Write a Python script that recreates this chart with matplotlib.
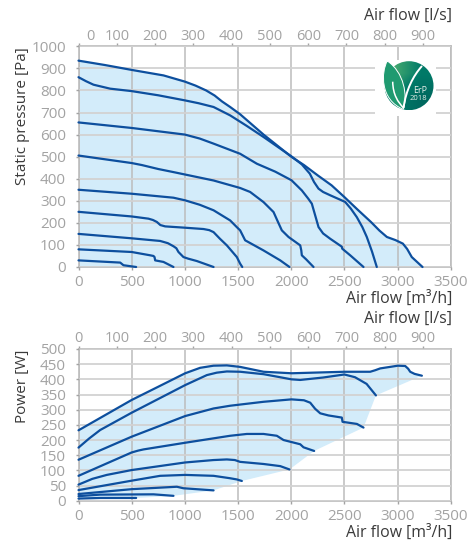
import matplotlib
matplotlib.use('Agg')
import matplotlib.pyplot as plt
import numpy as np
from matplotlib.patches import Circle, PathPatch, Rectangle
from matplotlib.path import Path

plt.rcParams['font.family'] = ['Open Sans', 'DejaVu Sans']

W = 470
H = 541
GREY = '#a3a3a3'
DARK = '#3a3a3a'
LINE = '#0d4f9e'
FILL = '#d3ecfa'

# static pressure curves, x in m3/h, y in Pa
p1_x = [0, 250, 500, 800, 1000, 1100, 1200, 1280, 1350, 1426, 1520, 1740, 2000, 2120, 2250, 2380, 2500, 2620, 2750, 2830, 2900, 2980, 3050, 3090, 3134, 3235]
p1_y = [935, 915, 893, 868, 840, 822, 800, 777, 750, 725, 692, 600, 500, 462, 415, 370, 317, 262, 204, 165, 136, 122, 106, 82, 45, 0]
p2_x = [0, 70, 141, 298, 500, 750, 1000, 1130, 1270, 1426, 1580, 1740, 2003, 2100, 2175, 2215, 2257, 2300, 2367, 2507, 2560, 2617, 2670, 2711, 2760, 2805]
p2_y = [860, 842, 826, 808, 797, 778, 755, 742, 725, 687, 640, 589, 501, 465, 423, 385, 355, 340, 325, 295, 265, 226, 180, 136, 70, 0]
p3_x = [0, 500, 1000, 1140, 1270, 1520, 1677, 1850, 2003, 2100, 2160, 2194, 2225, 2257, 2300, 2367, 2476, 2480, 2555, 2680]
p3_y = [655, 630, 600, 582, 559, 513, 468, 432, 393, 347, 310, 287, 235, 181, 152, 128, 92, 83, 53, 0]
p4_x = [0, 500, 595, 750, 893, 1270, 1520, 1614, 1740, 1834, 1875, 1912, 1975, 2085, 2095, 2100, 2140, 2210]
p4_y = [505, 471, 462, 444, 430, 392, 358, 340, 294, 249, 205, 166, 136, 98, 75, 53, 35, 0]
p5_x = [0, 500, 893, 1003, 1140, 1270, 1426, 1490, 1520, 1567, 1740, 1897, 1984]
p5_y = [350, 332, 314, 302, 282, 257, 211, 180, 166, 121, 75, 30, 0]
p6_x = [0, 500, 658, 700, 737, 770, 815, 1003, 1176, 1230, 1270, 1330, 1395, 1489, 1520, 1540]
p6_y = [250, 229, 219, 213, 204, 190, 184, 178, 172, 167, 158, 128, 98, 45, 15, 0]
p7_x = [0, 500, 768, 840, 893, 920, 940, 987, 1030, 1113, 1270]
p7_y = [150, 130, 118, 108, 94, 85, 68, 45, 38, 27, 0]
p8_x = [0, 500, 674, 705, 715, 721, 799, 893]
p8_y = [80, 68, 53, 50, 45, 30, 23, 0]
p9_x = [0, 392, 423, 542]
p9_y = [30, 20, 8, 0]

# power curves, x in m3/h, y in W
w1_x = [0, 500, 752, 1003, 1144, 1270, 1395, 1520, 1740, 2003, 2500, 2743, 2790, 2837, 3003, 3072, 3100, 3119, 3160, 3229]
w1_y = [232, 332, 376, 420, 438, 445, 446, 441, 425, 420, 425, 425, 430, 436, 445, 444, 435, 425, 418, 412]
w2_x = [0, 100, 204, 500, 1003, 1207, 1300, 1395, 1520, 1740, 1880, 2003, 2085, 2300, 2500, 2600, 2709, 2797]
w2_y = [175, 205, 233, 290, 381, 414, 422, 426, 425, 417, 408, 400, 398, 406, 416, 407, 385, 347]
w3_x = [0, 500, 1003, 1270, 1426, 1740, 2003, 2120, 2179, 2225, 2273, 2350, 2476, 2483, 2618, 2680]
w3_y = [135, 211, 279, 304, 313, 326, 334, 331, 323, 303, 288, 281, 274, 260, 253, 241]
w4_x = [0, 500, 560, 611, 1003, 1426, 1583, 1740, 1865, 1928, 2085, 2116, 2216]
w4_y = [82, 159, 165, 169, 191, 214, 220, 220, 214, 200, 186, 176, 164]
w5_x = [0, 130, 266, 500, 1003, 1270, 1395, 1470, 1520, 1740, 1897, 1984]
w5_y = [53, 72, 85, 101, 126, 134, 136, 134, 128, 121, 114, 103]
w6_x = [0, 500, 768, 1003, 1270, 1426, 1490, 1536]
w6_y = [35, 66, 82, 85, 82, 74, 70, 65]
w7_x = [0, 250, 500, 925, 987, 1270]
w7_y = [22, 30, 38, 46, 41, 34]
w8_x = [0, 204, 705, 893]
w8_y = [15, 20, 21, 16]
w9_x = [0, 204, 542]
w9_y = [7, 9, 9]

pressure = [(p1_x, p1_y), (p2_x, p2_y), (p3_x, p3_y), (p4_x, p4_y), (p5_x, p5_y),
            (p6_x, p6_y), (p7_x, p7_y), (p8_x, p8_y), (p9_x, p9_y)]
power = [(w1_x, w1_y), (w2_x, w2_y), (w3_x, w3_y), (w4_x, w4_y), (w5_x, w5_y),
         (w6_x, w6_y), (w7_x, w7_y), (w8_x, w8_y), (w9_x, w9_y)]

flow_ticks = [0, 500, 1000, 1500, 2000, 2500, 3000, 3500]
ls_ticks = [0, 100, 200, 300, 400, 500, 600, 700, 800, 900]
pressure_ticks = [0, 100, 200, 300, 400, 500, 600, 700, 800, 900, 1000]
power_ticks = [0, 50, 100, 150, 200, 250, 300, 350, 400, 450, 500]


def make_axes(left, top, right, bottom):
    return fig.add_axes([left / W, 1 - bottom / H, (right - left) / W, (bottom - top) / H])


def ftext(x, y, s, **kw):
    fig.text(x / W, 1 - y / H, s, **kw)


def style(ax, yticks, ymax):
    ax.set_xlim(0, 3500)
    ax.set_ylim(0, ymax)
    ax.set_xticks(flow_ticks)
    ax.set_yticks(yticks)
    ax.tick_params(axis='both', colors=GREY, labelsize=11, length=2, width=1)
    ax.tick_params(axis='y', pad=7)
    ax.tick_params(axis='x', pad=4)
    ax.grid(axis='y', color='#d2d2d2', lw=1.3, zorder=1)
    ax.grid(axis='x', color='#bcbcbc', lw=1.1, zorder=1)
    ax.set_axisbelow(False)
    for s in ax.spines.values():
        s.set_color('#bcbcbc')
        s.set_linewidth(1.2)
        s.set_zorder(1.5)
    sec = ax.secondary_xaxis('top', functions=(lambda x: x / 3.6, lambda x: x * 3.6))
    sec.set_xticks(ls_ticks)
    sec.tick_params(axis='x', colors=GREY, labelsize=10.5, length=2, width=1, pad=0)
    sec.spines['top'].set_visible(False)
    return sec


fig = plt.figure(figsize=(W / 100, H / 100), dpi=100)

################################ pressure ################################
ax1 = make_axes(78.5, 46.3, 450.7, 267)
sec1 = style(ax1, pressure_ticks, 1000)
sec1.set_xticklabels([''] + [str(v) for v in ls_ticks[1:]])
ax1.fill_between(p1_x, p1_y, 0, color=FILL, lw=0, zorder=0.5)
for x, y in pressure:
    ax1.plot(x, y, color=LINE, lw=1.6, solid_joinstyle='round', solid_capstyle='round', zorder=3, clip_on=False)
ftext(23, 116, 'Static pressure [Pa]', color=DARK, fontsize=11, rotation=90, ha='center', va='center')
ftext(90.7, 36, '0', color=GREY, fontsize=10.5, ha='center', va='center')
ftext(452, 16, 'Air flow [l/s]', color=DARK, fontsize=11.4, ha='right', va='center')
ftext(452, 299, 'Air flow [m³/h]', color=DARK, fontsize=11.4, ha='right', va='center')

################################ power ################################
ax2 = make_axes(78.5, 349, 450.7, 500.7)
sec2 = style(ax2, power_ticks, 500)
# outline of the shaded area: top curve, then the ends of the others
edge_x = list(w1_x) + [c[0][-1] for c in power[1:]] + [0]
edge_y = list(w1_y) + [c[1][-1] for c in power[1:]] + [w9_y[0]]
ax2.fill(edge_x, edge_y, color=FILL, lw=0, zorder=0.5)
for x, y in power:
    ax2.plot(x, y, color=LINE, lw=1.6, solid_joinstyle='round', solid_capstyle='round', zorder=3, clip_on=False)
ftext(23, 386, 'Power [W]', color=DARK, fontsize=11, rotation=90, ha='center', va='center')
ftext(452, 319, 'Air flow [l/s]', color=DARK, fontsize=11.4, ha='right', va='center')
ftext(452, 533, 'Air flow [m³/h]', color=DARK, fontsize=11.4, ha='right', va='center')

################################ logo ################################
logo = make_axes(375, 60, 436, 116)
logo.set_xlim(375, 436)
logo.set_ylim(116, 60)
logo.axis('off')
logo.add_patch(Rectangle((375, 60), 61, 56, color='white', lw=0))
green = matplotlib.colors.LinearSegmentedColormap.from_list('erp', ['#3ea56f', '#007a68', '#00695f'])
shade = np.array([[0.0, 0.5], [0.5, 1.0]])
img = logo.imshow(shade, cmap=green, extent=(384, 434, 110, 61), interpolation='bilinear', aspect='auto', zorder=1)
disc = Circle((409, 85.7), 24.5, transform=logo.transData)
img.set_clip_path(disc)
logo.set_xlim(375, 436)
logo.set_ylim(116, 60)
leaf = Path([(387.3, 61), (381, 72), (380, 100), (403.3, 109.3), (408, 96), (404, 72), (387.3, 61)],
            [Path.MOVETO, Path.CURVE4, Path.CURVE4, Path.CURVE4, Path.CURVE4, Path.CURVE4, Path.CURVE4])
logo.add_patch(PathPatch(leaf, fc='#1f9a70', ec='white', lw=0.7, zorder=2))
stem = Path([(422, 66), (413, 76), (406, 90), (403.5, 108)], [Path.MOVETO, Path.CURVE4, Path.CURVE4, Path.CURVE4])
logo.add_patch(PathPatch(stem, fc='none', ec='white', lw=1.4, zorder=3))
vein = Path([(392.7, 81.7), (393, 95), (398, 102), (403.5, 108)], [Path.MOVETO, Path.CURVE4, Path.CURVE4, Path.CURVE4])
logo.add_patch(PathPatch(vein, fc='none', ec='white', lw=1.1, zorder=3))
logo.text(420.5, 90.5, 'ErP', color='#e4efe9', fontsize=6.5, ha='center', va='center', zorder=4)
logo.text(418.5, 98.5, '2018', color='#e4efe9', fontsize=5.5, ha='center', va='center', zorder=4)

fig.savefig('out.png', dpi=100)
